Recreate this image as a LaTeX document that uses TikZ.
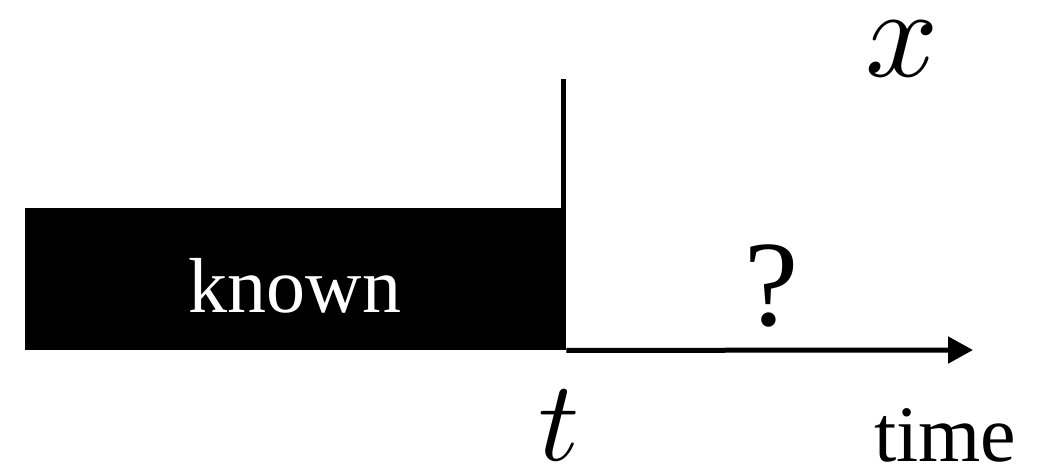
\documentclass[tikz,border=0pt]{standalone}
\usepackage{graphicx}
\usepackage{fontspec}
\setmainfont{Liberation Serif}
\usetikzlibrary{arrows.meta}
\begin{document}
\begin{tikzpicture}[x=1pt,y=-1pt,
  lbl/.style={inner sep=0pt,anchor=base},
  axisline/.style={line width=5pt}]
\useasboundingbox (0,0) rectangle (1046,474);
\node[fill=black,inner sep=0pt,minimum width=541pt,minimum height=142pt,anchor=north west] (known) at (25,208) {};
\node[lbl,text=white,font=\fontsize{78}{78}\selectfont] (knowntxt) at (295,312) {known};
\coordinate (vtop) at (563.5,79);
\coordinate (atip) at (973,350);
\draw[axisline] (known.north east -| vtop) -- (vtop);
\draw[axisline,-{Triangle[length=25pt,width=26pt]}] (known.south east) -- (atip);
\node[lbl] (xlab) at (902,76) {\scalebox{12.8}{$x$}};
\node[lbl] (tlab) at (559,460) {\scalebox{11.4}{$t$}};
\node[lbl,font=\fontsize{122}{122}\selectfont] (qlab) at (772,325) {?};
\node[lbl,font=\fontsize{80}{80}\selectfont,anchor=base west] (timelab) at (874,461) {time};
\end{tikzpicture}
\end{document}
